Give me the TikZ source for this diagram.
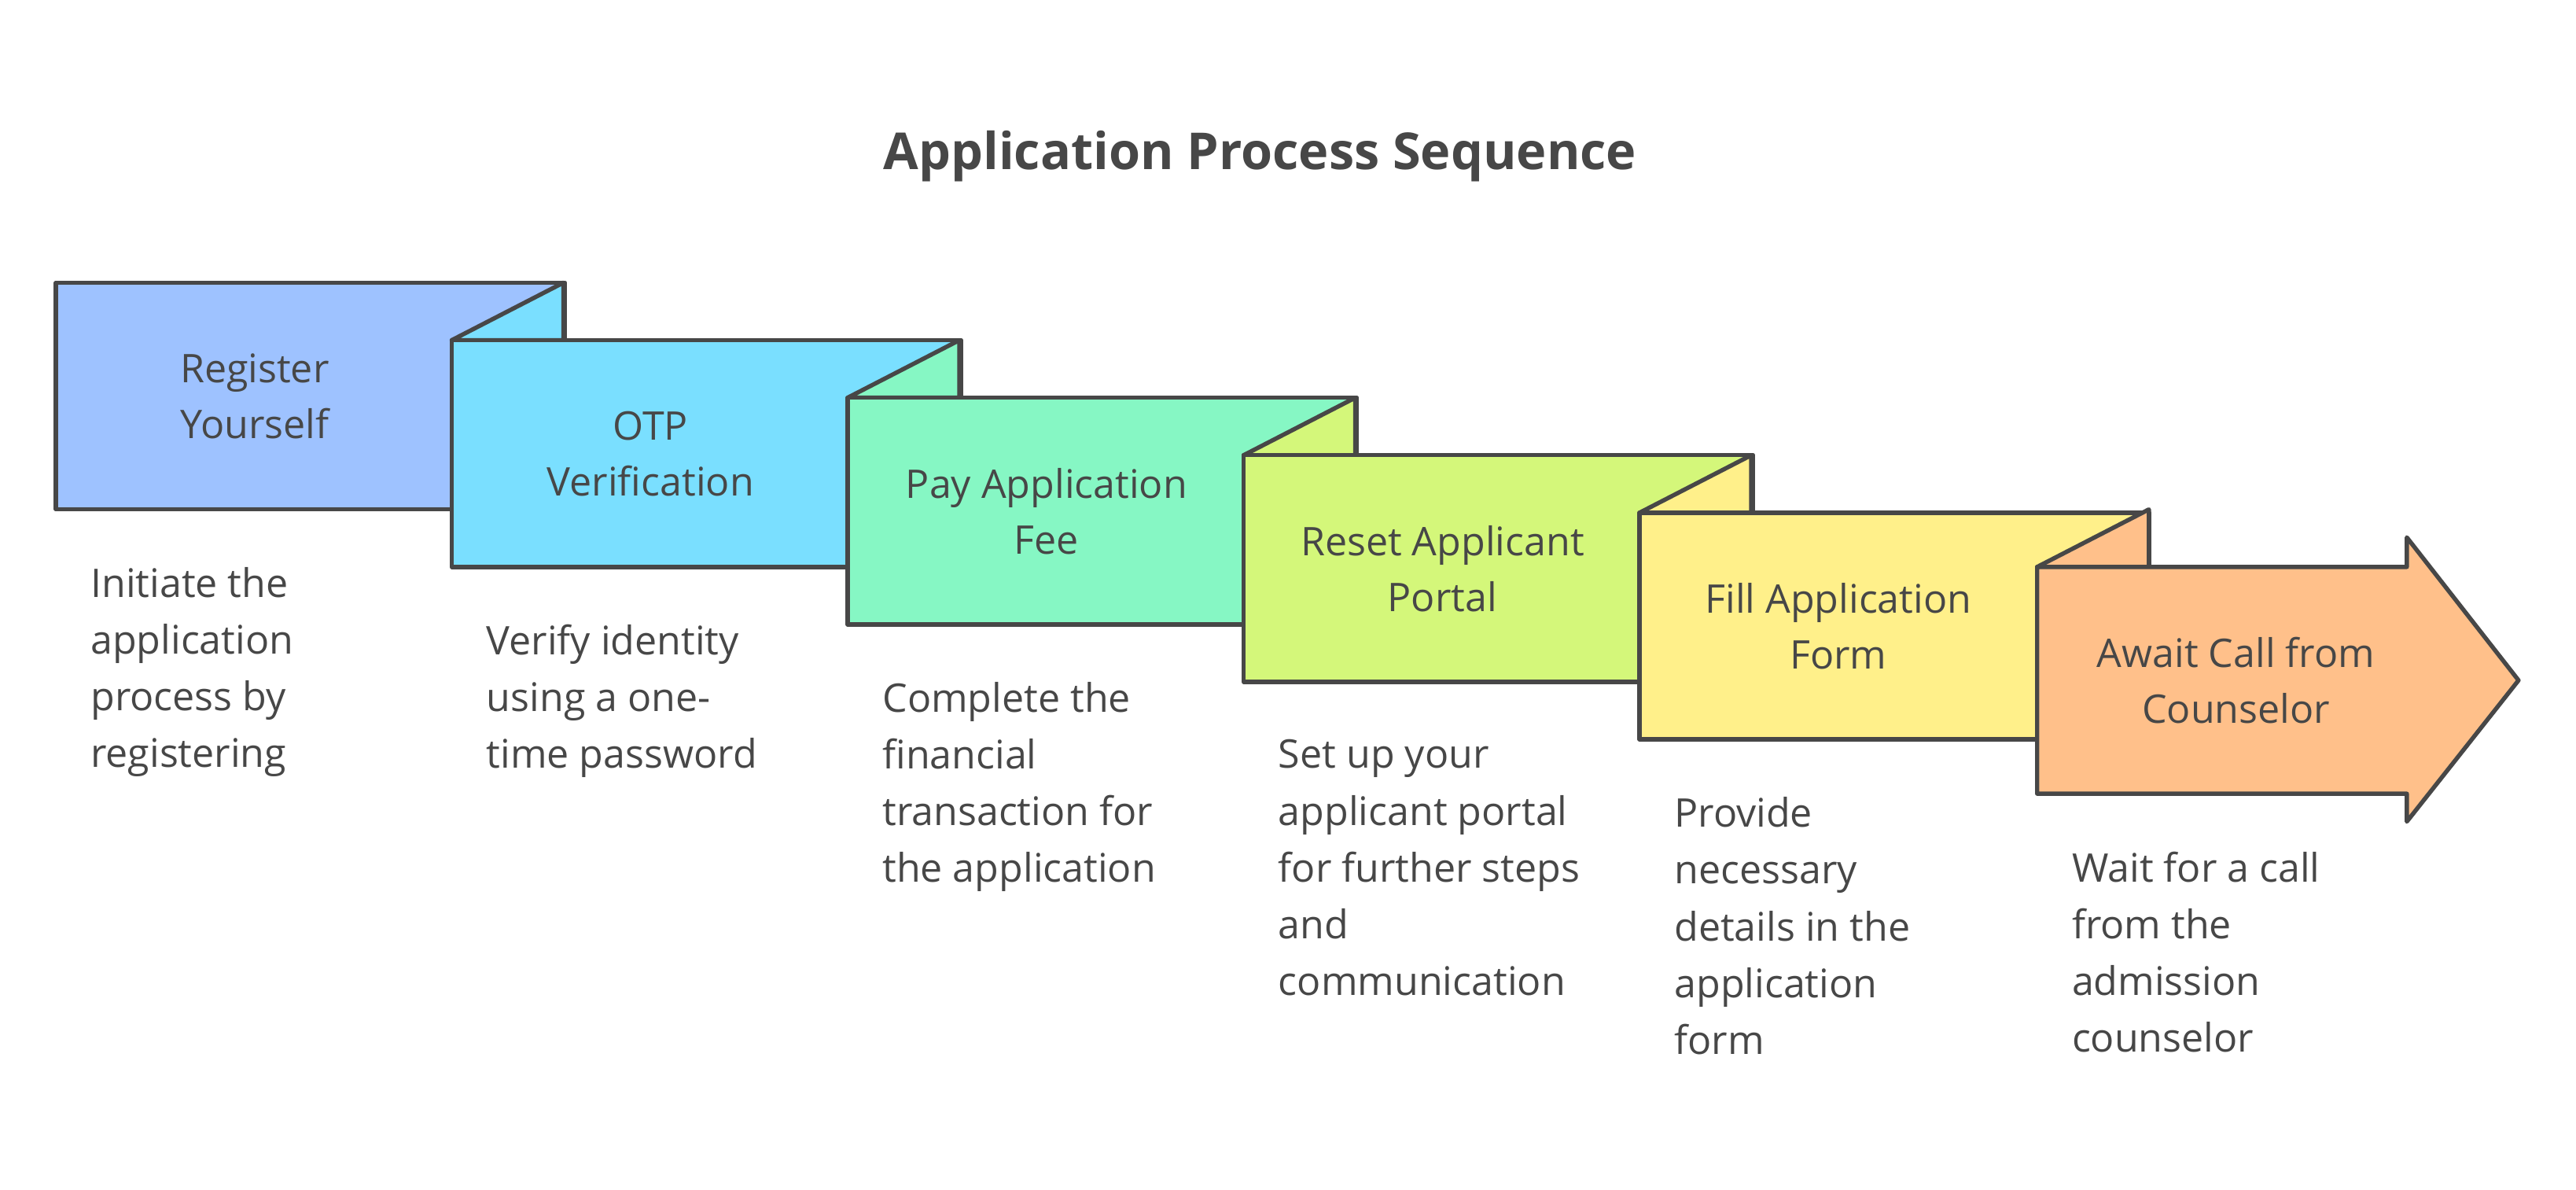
\documentclass[tikz,border=0pt]{standalone}
\usepackage{fontspec}
\setmainfont{Open Sans}
\begin{document}
\begin{tikzpicture}[x=1pt,y=-1pt,
  bx/.style={draw=black!72,line width=2.6pt,line join=round},
  lab/.style={align=center,font=\fontsize{24}{34}\selectfont,text=black!72},
  desc/.style={align=left,anchor=north west,font=\fontsize{24}{34.5}\selectfont,text=black!72,inner sep=0pt}]
\useasboundingbox (0,0) rectangle (1568,724);
\definecolor{c1}{HTML}{9EC2FF}
\definecolor{c2}{HTML}{7ADFFF}
\definecolor{c3}{HTML}{86F7C4}
\definecolor{c4}{HTML}{D4F77A}
\definecolor{c5}{HTML}{FFF08A}
\definecolor{c6}{HTML}{FFC08A}
\node[font=\bfseries\fontsize{31}{36}\selectfont,text=black!72] (title) at (767,95) {Application Process Sequence};
% boxes 1..5
\foreach \i/\c/\t/\d in {0/c1/{Register\\Yourself}/{Initiate the\\application\\process by\\registering},
  1/c2/{OTP\\Verification}/{Verify identity\\using a one-\\time password},
  2/c3/{Pay Application\\Fee}/{Complete the\\financial\\transaction for\\the application},
  3/c4/{Reset Applicant\\Portal}/{Set up your\\applicant portal\\for further steps\\and\\communication},
  4/c5/{Fill Application\\Form}/{Provide\\necessary\\details in the\\application\\form}}{
  \pgfmathsetmacro\xa{34+241*\i}
  \pgfmathsetmacro\ya{172+35*\i}
  \ifnum\i>0
    \draw[bx,fill=\c] (\xa,\ya) -- (\xa+68,\ya-35) -- (\xa+68,\ya) -- cycle;
  \fi
  \draw[bx,fill=\c] (\xa,\ya) rectangle (\xa+310,\ya+138);
  \node[lab] (b\i) at (\xa+121,\ya+69) {\t};
  \node[desc] (d\i) at (\xa+21,\ya+173) {\d};
}
% box 6 arrow
\draw[bx,fill=c6] (1240,345) -- (1308,310) -- (1308,345) -- cycle;
\draw[bx,fill=c6] (1240,345) -- (1465,345) -- (1465,327) -- (1533,414) -- (1465,500) -- (1465,483) -- (1240,483) -- cycle;
\node[lab] (b5) at (1361,414) {Await Call from\\Counselor};
\node[desc] (d5) at (1261,518) {Wait for a call\\from the\\admission\\counselor};
\end{tikzpicture}
\end{document}
